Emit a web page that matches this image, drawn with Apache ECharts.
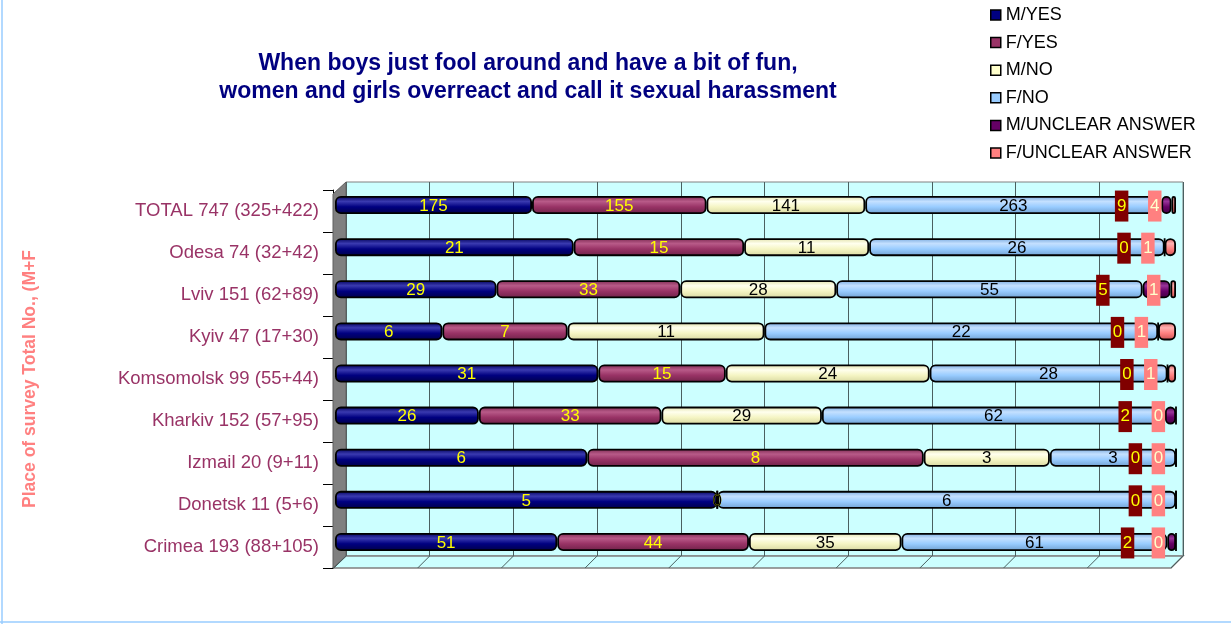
<!DOCTYPE html>
<html>
<head>
<meta charset="utf-8">
<script src="https://cdn.jsdelivr.net/npm/echarts@6/dist/echarts.min.js"></script>
<style>
  html, body { margin: 0; padding: 0; background: #fff; }
  #chart { width: 1231px; height: 624px; }
</style>
</head>
<body>
<div id="chart"></div>
<script>
// 数据
const categories = [
  'TOTAL 747 (325+422)', 'Odesa 74 (32+42)', 'Lviv 151 (62+89)', 'Kyiv 47 (17+30)',
  'Komsomolsk 99 (55+44)', 'Kharkiv 152 (57+95)', 'Izmail 20 (9+11)', 'Donetsk 11 (5+6)',
  'Crimea 193 (88+105)'
]
const seriesNames = ['M/YES', 'F/YES', 'M/NO', 'F/NO', 'M/UNCLEAR ANSWER', 'F/UNCLEAR ANSWER']
const mYes = [175, 21, 29, 6, 31, 26, 6, 5, 51]
const fYes = [155, 15, 33, 7, 15, 33, 8, 0, 44]
const mNo = [141, 11, 28, 11, 24, 29, 3, 0, 35]
const fNo = [263, 26, 55, 22, 28, 62, 3, 6, 61]
const mUnclear = [9, 0, 5, 0, 0, 2, 0, 0, 2]
const fUnclear = [4, 1, 1, 1, 1, 0, 0, 0, 0]
const xTicks = [0, 10, 20, 30, 40, 50, 60, 70, 80, 90, 100]

const counts = [mYes, fYes, mNo, fNo, mUnclear, fUnclear]
const rowTotals = categories.map((c, i) => counts.reduce((s, arr) => s + arr[i], 0))

// 样式
const FONT = 'Liberation Sans, Arial, sans-serif'
const baseColors = ['#000080', '#993366', '#FFFFCC', '#99CCFF', '#660066', '#FF8080']
const shades = [
  ['#00005a', '#3a3ab0', '#000080', '#000048'],
  ['#7a2850', '#b85a88', '#993366', '#6e2248'],
  ['#e0e0a8', '#ffffee', '#f5f5c4', '#d8d8a0'],
  ['#78a8dd', '#c4e0ff', '#99ccff', '#6f9fd0'],
  ['#4a004a', '#993399', '#660066', '#400040'],
  ['#d86060', '#ffb0b0', '#ff8080', '#c85050']
]
const labelColors = ['#FFFF00', '#FFFF00', '#000', '#000', '#FFFF00', '#FFFFCC']

function cyl(i) {
  const s = shades[i]
  return new echarts.graphic.LinearGradient(0, 0, 0, 1, [
    { offset: 0, color: s[0] },
    { offset: 0.3, color: s[1] },
    { offset: 0.6, color: s[2] },
    { offset: 1, color: s[3] }
  ])
}

// 三维墙面位置
const WALL_L = 346, WALL_T = 182, WALL_R = 1183, WALL_B = 556
const FRONT_L = 333, DEPTH = 12

const chart = echarts.init(document.getElementById('chart'), null, { renderer: 'canvas' })

const series = counts.map((arr, si) => {
  const label = {
    show: true,
    position: 'inside',
    color: labelColors[si],
    fontSize: 17,
    fontFamily: FONT,
    offset: [0, 1],
    formatter: p => arr[p.dataIndex]
  }
  if (si === 4) {
    Object.assign(label, { position: 'left', distance: 33, backgroundColor: '#800000', padding: [7, 2] })
  }
  if (si === 5) {
    Object.assign(label, { position: 'left', distance: 10, backgroundColor: '#FF8080', padding: [7, 2] })
  }
  return {
    name: seriesNames[si],
    type: 'bar',
    stack: 'total',
    xAxisIndex: 1,
    yAxisIndex: 1,
    barWidth: 18,
    data: arr.map((v, i) => v / rowTotals[i] * 100),
    itemStyle: { color: cyl(si), borderColor: '#000', borderWidth: 1.8, borderRadius: 5 },
    label: label,
    emphasis: { disabled: true },
    z: 3
  }
})

// 地板斜线
const floorLines = xTicks.map(t => {
  const f = t / 100
  const bx = WALL_L + (WALL_R - WALL_L) * f
  return {
    type: 'line',
    silent: true,
    z: 1,
    shape: { x1: bx, y1: WALL_B, x2: bx - DEPTH, y2: WALL_B + DEPTH },
    style: { stroke: '#4a6060', lineWidth: 1 }
  }
})

const option = {
  animation: false,
  backgroundColor: '#fff',
  title: {
    text: 'When boys just fool around and have a bit of fun,\nwomen and girls overreact and call it sexual harassment',
    left: 523,
    top: 45,
    textAlign: 'center',
    textStyle: {
      color: '#000080',
      fontSize: 23,
      fontWeight: 'bold',
      fontFamily: FONT,
      lineHeight: 28
    }
  },
  legend: {
    orient: 'vertical',
    left: 985,
    top: 1,
    itemWidth: 10,
    itemHeight: 10,
    itemGap: 9.6,
    icon: 'rect',
    selectedMode: false,
    textStyle: { color: '#000', fontSize: 18, lineHeight: 18, fontFamily: FONT },
    data: seriesNames.map((n, i) => ({
      name: n,
      itemStyle: { color: baseColors[i], borderColor: '#000', borderWidth: 1.5 }
    }))
  },
  grid: [
    // 后墙
    { left: WALL_L, top: WALL_T, width: WALL_R - WALL_L, height: WALL_B - WALL_T,
      show: true, backgroundColor: '#CCFFFF', borderColor: '#808080', borderWidth: 1 },
    // 柱子
    { left: 335, top: 184, width: 841, height: 379 },
    // 分类标签
    { left: FRONT_L, top: 190, width: 841, height: 378 }
  ],
  xAxis: [
    { gridIndex: 0, type: 'value', min: 0, max: 100, interval: 10,
      axisLabel: { show: false }, axisTick: { show: false }, axisLine: { show: false },
      splitLine: { lineStyle: { color: '#4a6060', width: 1 } } },
    { gridIndex: 1, type: 'value', min: 0, max: 100, show: false },
    { gridIndex: 2, type: 'value', min: 0, max: 100, show: false }
  ],
  yAxis: [
    { gridIndex: 0, type: 'category', data: categories, inverse: true, show: false },
    { gridIndex: 1, type: 'category', data: categories, inverse: true, show: false },
    { gridIndex: 2, type: 'category', data: categories, inverse: true,
      axisLine: { show: true, lineStyle: { color: '#000', width: 1 } },
      axisTick: { show: true, length: 10, lineStyle: { color: '#000' } },
      axisLabel: { color: '#993366', fontSize: 18.5, margin: 14, fontFamily: FONT },
      splitLine: { show: false },
      name: 'Place of survey Total No., (M+F',
      nameLocation: 'middle',
      nameRotate: 90,
      nameGap: 294,
      nameTextStyle: { color: '#FF8080', fontSize: 17.5, fontWeight: 'bold', fontFamily: FONT } }
  ],
  graphic: [
    // 左侧墙
    { type: 'polygon', silent: true, z: 1,
      shape: { points: [[FRONT_L, WALL_T + DEPTH], [WALL_L, WALL_T], [WALL_L, WALL_B], [FRONT_L, WALL_B + DEPTH]] },
      style: { fill: '#808080', stroke: '#606060', lineWidth: 1 } },
    // 地板
    { type: 'polygon', silent: true, z: 0,
      shape: { points: [[FRONT_L, WALL_B + DEPTH], [WALL_L, WALL_B], [WALL_R, WALL_B], [WALL_R - DEPTH, WALL_B + DEPTH]] },
      style: { fill: '#CCFFFF', stroke: '#808080', lineWidth: 1.5 } },
    ...floorLines,
    // 外框
    { type: 'line', silent: true, shape: { x1: 2, y1: 0, x2: 2, y2: 624 }, style: { stroke: '#99CCFF', lineWidth: 1.5 } },
    { type: 'line', silent: true, shape: { x1: 0, y1: 622, x2: 1231, y2: 622 }, style: { stroke: '#99CCFF', lineWidth: 1.5 } }
  ],
  series: series
}

chart.setOption(option)
</script>
</body>
</html>
